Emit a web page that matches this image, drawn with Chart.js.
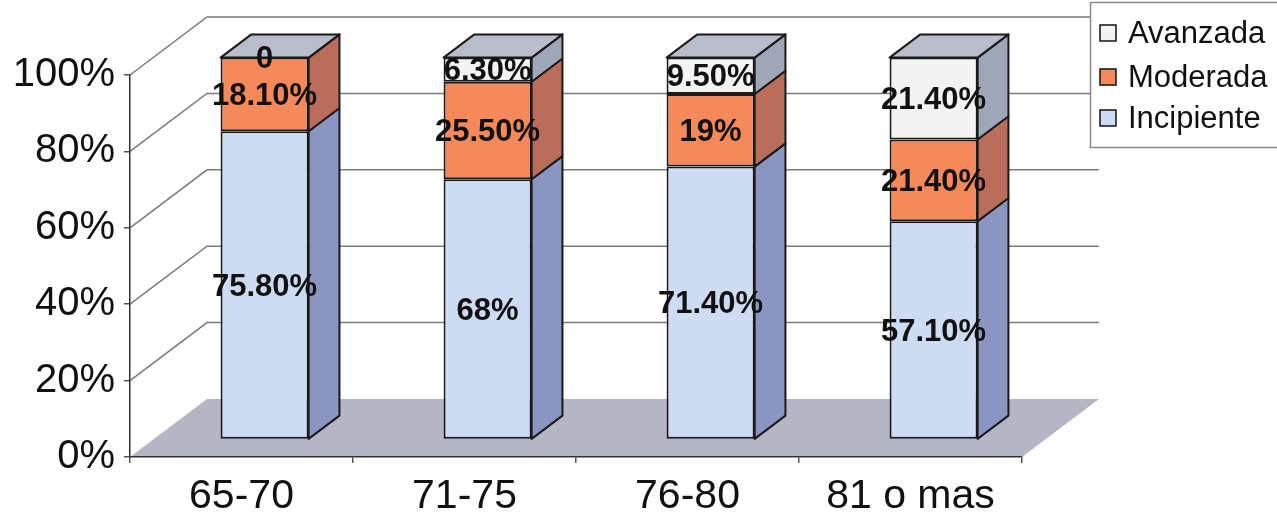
<!DOCTYPE html>
<html>
<head>
<meta charset="utf-8">
<script src="https://cdn.jsdelivr.net/npm/chart.js@4"></script>
<style>
  html, body { margin: 0; padding: 0; background: #fff; }
  #wrap { width: 1277px; height: 520px; }
</style>
</head>
<body>
<div id="wrap"><canvas id="grafico" width="1277" height="520"></canvas></div>
<script>
const categorias = ['65-70', '71-75', '76-80', '81 o mas'];
const incipiente = [75.8, 68, 71.4, 57.1];
const moderada = [18.1, 25.5, 19, 21.4];
const avanzada = [0, 6.3, 9.5, 21.4];
const ticksY = [0, 20, 40, 60, 80, 100];

// grafico 100% apilado (como Excel), las etiquetas muestran el valor original
const totales = categorias.map((c, i) => incipiente[i] + moderada[i] + avanzada[i]);
const aPorcentaje = serie => serie.map((v, i) => v / totales[i] * 100);

const FUENTE = '"Liberation Sans", Arial, sans-serif';
const PARED = { dx: 77, dy: -58 };  // profundidad total del 3D
const FRENTE = 0.3;                  // donde empieza la barra
const GROSOR = 0.4;                  // fondo de la barra

function formato(v) {
    if (v === 0) return '0';
    if (Number.isInteger(v)) return v + '%';
    return v.toFixed(2) + '%';
}

const series = [
    { label: 'Incipiente', valores: incipiente, frente: '#cddcf3', lado: '#8a95c2' },
    { label: 'Moderada', valores: moderada, frente: '#f5895a', lado: '#bb6d5c' },
    { label: 'Avanzada', valores: avanzada, frente: '#f3f3f3', lado: '#9ea6b8' }
];

const tresD = {
    id: 'tresD',
    beforeDraw: function(chart) {
        const { ctx, chartArea: a, scales: { y } } = chart;
        const y0 = y.getPixelForValue(0);
        ctx.save();
        // suelo
        ctx.fillStyle = '#b5b5c6';
        ctx.beginPath();
        ctx.moveTo(a.left, y0);
        ctx.lineTo(a.left + PARED.dx, y0 + PARED.dy);
        ctx.lineTo(a.right + PARED.dx, y0 + PARED.dy);
        ctx.lineTo(a.right, y0);
        ctx.closePath();
        ctx.fill();
        // lineas de division en la pared
        ctx.strokeStyle = '#7a7a7a';
        ctx.lineWidth = 1.5;
        ticksY.slice(1).forEach(t => {
            const py = y.getPixelForValue(t);
            ctx.beginPath();
            ctx.moveTo(a.left, py);
            ctx.lineTo(a.left + PARED.dx, py + PARED.dy);
            ctx.lineTo(a.right + PARED.dx, py + PARED.dy);
            ctx.stroke();
        });
        ctx.restore();
    },
    beforeDatasetsDraw: function(chart) {
        chart.ctx.save();
        chart.ctx.translate(PARED.dx * FRENTE, PARED.dy * FRENTE);
    },
    afterDatasetsDraw: function(chart) {
        const ctx = chart.ctx;
        ctx.restore();
        const fx = PARED.dx * FRENTE, fy = PARED.dy * FRENTE;
        const gx = PARED.dx * GROSOR, gy = PARED.dy * GROSOR;
        ctx.save();
        ctx.lineWidth = 2;
        ctx.strokeStyle = '#1a1a1a';
        ctx.lineJoin = 'round';

        const ultimo = chart.data.datasets.length - 1;
        chart.data.datasets.forEach((ds, di) => {
            chart.getDatasetMeta(di).data.forEach(el => {
                const p = el.getProps(['x', 'y', 'base', 'width'], true);
                const der = p.x + p.width / 2 + fx;
                const izq = p.x - p.width / 2 + fx;
                const arriba = p.y + fy, abajo = p.base + fy;
                // cara lateral
                ctx.fillStyle = series[di].lado;
                ctx.beginPath();
                ctx.moveTo(der, arriba);
                ctx.lineTo(der + gx, arriba + gy);
                ctx.lineTo(der + gx, abajo + gy);
                ctx.lineTo(der, abajo);
                ctx.closePath();
                ctx.fill();
                ctx.stroke();
                // tapa
                if (di === ultimo) {
                    ctx.fillStyle = '#b9bccb';
                    ctx.beginPath();
                    ctx.moveTo(izq, arriba);
                    ctx.lineTo(izq + gx, arriba + gy);
                    ctx.lineTo(der + gx, arriba + gy);
                    ctx.lineTo(der, arriba);
                    ctx.closePath();
                    ctx.fill();
                    ctx.stroke();
                }
            });
        });

        // etiquetas de datos
        ctx.fillStyle = '#111';
        ctx.font = 'bold 31px ' + FUENTE;
        ctx.textAlign = 'center';
        ctx.textBaseline = 'middle';
        chart.data.datasets.forEach((ds, di) => {
            chart.getDatasetMeta(di).data.forEach((el, i) => {
                const p = el.getProps(['x', 'y', 'base'], true);
                ctx.fillText(formato(series[di].valores[i]), p.x + fx, (p.y + p.base) / 2 + fy + 2);
            });
        });
        ctx.restore();
    },
    afterDraw: function(chart) {
        // leyenda
        const ctx = chart.ctx;
        ctx.save();
        ctx.fillStyle = '#fff';
        ctx.strokeStyle = '#8a8a8a';
        ctx.lineWidth = 1.5;
        ctx.fillRect(1090, 2, 190, 145);
        ctx.strokeRect(1090.5, 2.5, 190, 145);
        ctx.font = '31px ' + FUENTE;
        ctx.textBaseline = 'middle';
        ctx.textAlign = 'left';
        const filas = [33, 77, 118];
        series.slice().reverse().forEach((s, k) => {
            const cy = filas[k];
            ctx.fillStyle = s.frente;
            ctx.fillRect(1100, cy - 8, 16, 16);
            ctx.strokeStyle = '#111';
            ctx.lineWidth = 1.5;
            ctx.strokeRect(1100, cy - 8, 16, 16);
            ctx.fillStyle = '#111';
            ctx.fillText(s.label, 1128, cy + 1);
        });
        ctx.restore();
    }
};

new Chart(document.getElementById('grafico'), {
    type: 'bar',
    data: {
        labels: categorias,
        datasets: series.map(s => ({
            label: s.label,
            data: aPorcentaje(s.valores),
            backgroundColor: s.frente,
            borderColor: '#1a1a1a',
            borderWidth: 2,
            borderSkipped: false,
            barPercentage: 0.395,
            categoryPercentage: 1,
            clip: false
        }))
    },
    options: {
        responsive: false,
        animation: false,
        layout: { padding: { top: 75, right: 255, left: 0, bottom: 0 } },
        plugins: {
            legend: { display: false },
            tooltip: { enabled: false }
        },
        scales: {
            x: {
                stacked: true,
                ticks: { font: { family: FUENTE, size: 41 }, color: '#111', padding: 9 },
                grid: { offset: true, drawOnChartArea: false, tickLength: 6, color: '#555', lineWidth: 1.5 },
                border: { color: '#333', width: 1.5 },
                afterFit: s => { s.height = 63; }
            },
            y: {
                stacked: true,
                min: 0,
                max: 100,
                afterBuildTicks: s => { s.ticks = ticksY.map(v => ({ value: v })); },
                ticks: { callback: v => v + '%', font: { family: FUENTE, size: 40 }, color: '#111', padding: 9 },
                grid: { drawOnChartArea: false, tickLength: 6, color: '#555', lineWidth: 1.5 },
                border: { color: '#333', width: 1.5 },
                afterFit: s => { s.width = 130; }
            }
        }
    },
    plugins: [tresD]
});
</script>
</body>
</html>
